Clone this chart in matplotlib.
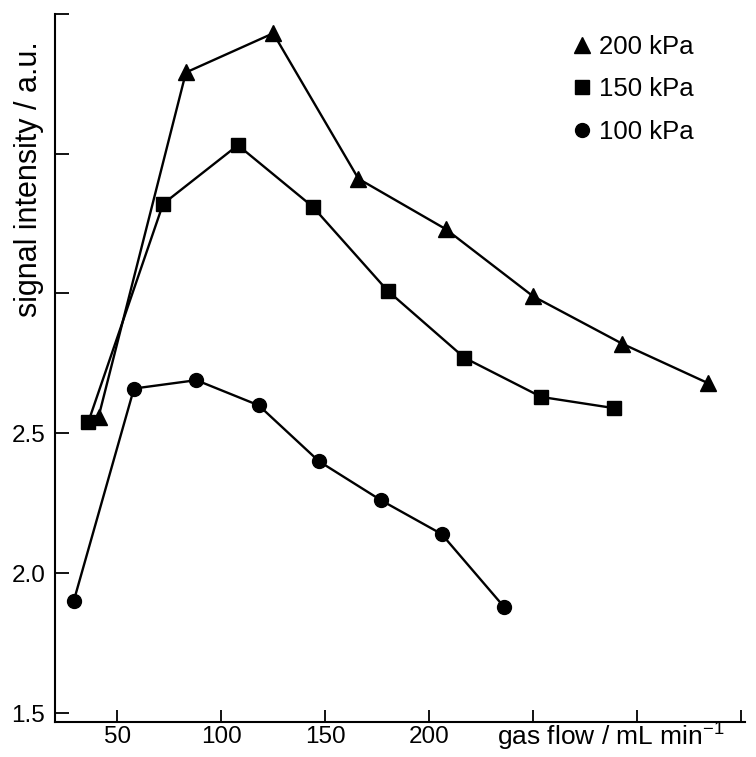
import matplotlib
matplotlib.use("Agg")
from matplotlib import pyplot as plt
from matplotlib.lines import Line2D

plt.rcParams['font.family'] = ['Liberation Sans', 'DejaVu Sans']
plt.rcParams['mathtext.default'] = 'regular'

# gas flow (mL/min) and signal intensity for each pressure
flow_200 = [41, 83, 125, 166, 208, 250, 293, 334]
sig_200 = [2.56, 3.79, 3.93, 3.41, 3.23, 2.99, 2.82, 2.68]

flow_150 = [36, 72, 108, 144, 180, 217, 254, 289]
sig_150 = [2.54, 3.32, 3.53, 3.31, 3.01, 2.77, 2.63, 2.59]

flow_100 = [29, 58, 88, 118, 147, 177, 206, 236]
sig_100 = [1.90, 2.66, 2.69, 2.60, 2.40, 2.26, 2.14, 1.88]

series_labels = ['200 kPa', '150 kPa', '100 kPa']

xticks = [50, 100, 150, 200, 250, 300, 350]
xticklabels = ['50', '100', '150', '200', '', '', '']
yticks = [1.5, 2.0, 2.5, 3.0, 3.5, 4.0]
yticklabels = ['1.5', '2.0', '2.5', '', '', '']

fig = plt.figure(figsize=(7.56, 7.57), dpi=100)
ax = fig.add_axes([55/756, 1 - 722/757, 690/756, (722 - 13.7)/757])

lw = 1.7
ax.plot(flow_200, sig_200, color='black', lw=lw, marker='^', ms=11)
ax.plot(flow_150, sig_150, color='black', lw=lw, marker='s', ms=10)
ax.plot(flow_100, sig_100, color='black', lw=lw, marker='o', ms=10)

ax.set_xlim(20, 352)
ax.set_ylim(1.468, 4.0)
ax.set_xticks(xticks)
ax.set_xticklabels(xticklabels)
ax.set_yticks(yticks)
ax.set_yticklabels(yticklabels)

for side in ['top', 'right']:
    ax.spines[side].set_visible(False)
for side in ['left', 'bottom']:
    ax.spines[side].set_linewidth(1.5)

ax.tick_params(axis='x', direction='in', length=9, width=1.3, pad=3, labelsize=17.5)
ax.tick_params(axis='y', direction='in', length=10, width=1.3, pad=7, labelsize=17.5)

ax.text(29/756, 1 - 179/757, 'signal intensity / a.u.', transform=fig.transFigure,
        rotation=90, ha='center', va='center', fontsize=22)
ax.text(497/756, 1 - 737/757, r'gas flow / mL min$^{-1}$', transform=fig.transFigure,
        ha='left', va='center', fontsize=19)

handles = [Line2D([], [], color='black', ls='none', marker='^', ms=11),
           Line2D([], [], color='black', ls='none', marker='s', ms=10),
           Line2D([], [], color='black', ls='none', marker='o', ms=10)]
ax.legend(handles, series_labels, loc='upper left', frameon=False, fontsize=18.5,
          handlelength=0.6, handletextpad=0.35, labelspacing=0.72,
          borderaxespad=0, bbox_to_anchor=((564 - 55)/690, 0.985))

plt.savefig('out.png', dpi=100)
